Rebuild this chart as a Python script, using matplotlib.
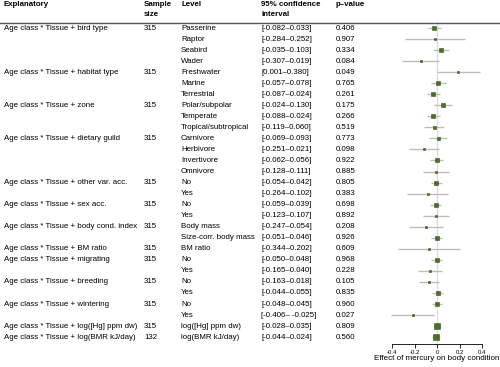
import matplotlib.pyplot as plt
import matplotlib.transforms as mtransforms

plt.rcParams['font.family'] = ['Liberation Sans', 'DejaVu Sans']

# Table content
explanatory = [
    'Age class * Tissue + bird type', 'Age class * Tissue + habitat type',
    'Age class * Tissue + zone', 'Age class * Tissue + dietary guild',
    'Age class * Tissue + other var. acc.', 'Age class * Tissue + sex acc.',
    'Age class * Tissue + body cond. index', 'Age class * Tissue + BM ratio',
    'Age class * Tissue + migrating', 'Age class * Tissue + breeding',
    'Age class * Tissue + wintering', 'Age class * Tissue + log([Hg] ppm dw)',
    'Age class * Tissue + log(BMR kJ/day)',
]
sample_size = [315, 315, 315, 315, 315, 315, 315, 315, 315, 315, 315, 315, 132]
n_levels = [4, 3, 3, 4, 2, 2, 2, 1, 2, 2, 2, 1, 1]

levels = [
    'Passerine', 'Raptor', 'Seabird', 'Wader',
    'Freshwater', 'Marine', 'Terrestrial',
    'Polar/subpolar', 'Temperate', 'Tropical/subtropical',
    'Carnivore', 'Herbivore', 'Invertivore', 'Omnivore',
    'No', 'Yes', 'No', 'Yes',
    'Body mass', 'Size-corr. body mass', 'BM ratio',
    'No', 'Yes', 'No', 'Yes', 'No', 'Yes',
    'log([Hg] ppm dw)', 'log(BMR kJ/day)',
]
ci_low = [-0.082, -0.284, -0.035, -0.307, 0.001, -0.057, -0.087, -0.024, -0.088,
          -0.119, -0.069, -0.251, -0.062, -0.128, -0.054, -0.264, -0.059, -0.123,
          -0.247, -0.051, -0.344, -0.050, -0.165, -0.163, -0.044, -0.048, -0.406,
          -0.028, -0.044]
ci_high = [0.033, 0.252, 0.103, 0.019, 0.380, 0.078, 0.024, 0.130, 0.024, 0.060,
           0.093, 0.021, 0.056, 0.111, 0.042, 0.102, 0.039, 0.107, 0.054, 0.046,
           0.202, 0.048, 0.040, 0.018, 0.055, 0.045, -0.025, 0.035, 0.024]
ci_text = ['[-0.082–0.033]', '[-0.284–0.252]', '[-0.035–0.103]', '[-0.307–0.019]',
           '[0.001–0.380]', '[-0.057–0.078]', '[-0.087–0.024]', '[-0.024–0.130]',
           '[-0.088–0.024]', '[-0.119–0.060]', '[-0.069–0.093]', '[-0.251–0.021]',
           '[-0.062–0.056]', '[-0.128–0.111]', '[-0.054–0.042]', '[-0.264–0.102]',
           '[-0.059–0.039]', '[-0.123–0.107]', '[-0.247–0.054]', '[-0.051–0.046]',
           '[-0.344–0.202]', '[-0.050–0.048]', '[-0.165–0.040]', '[-0.163–0.018]',
           '[-0.044–0.055]', '[-0.048–0.045]', '[-0.406– -0.025]', '[-0.028–0.035]',
           '[-0.044–0.024]']
p_values = ['0.406', '0.907', '0.334', '0.084', '0.049', '0.765', '0.261', '0.175',
            '0.266', '0.519', '0.773', '0.098', '0.922', '0.885', '0.805', '0.383',
            '0.698', '0.892', '0.208', '0.926', '0.609', '0.968', '0.228', '0.105',
            '0.835', '0.960', '0.027', '0.809', '0.560']
# point estimates
estimate = [-0.025, -0.016, 0.034, -0.144, 0.190, 0.011, -0.032, 0.053, -0.032,
            -0.030, 0.012, -0.115, -0.003, -0.009, -0.006, -0.081, -0.010, -0.008,
            -0.097, -0.003, -0.071, -0.001, -0.063, -0.073, 0.006, -0.002, -0.216,
            0.004, -0.010]
# marker size (weight) in pixels
weight_px = [4, 2, 3.5, 2, 2, 3.5, 4, 3.5, 4, 3, 3, 2, 3.5, 2.5, 4, 2, 4.5, 2.5,
             2.5, 4.5, 2, 4, 2.5, 2.5, 4, 4.5, 2, 6, 5.5]

W, H = 500, 367
fig = plt.figure(figsize=(W / 100, H / 100), dpi=100)

row0, drow, axis_y = 28, 11.04, 344
ax = fig.add_axes([370 / W, (H - axis_y) / H, 130 / W, axis_y / H])
ax.set_ylim((axis_y - row0) / drow, -row0 / drow)
ax.set_xlim((370 - 437) / 112.5, (500 - 437) / 112.5)

rows = list(range(len(levels)))
ax.plot([0, 0], [-0.55, 28.62], color='#dedede', lw=1, zorder=1)
ax.hlines(rows, ci_low, ci_high, color='#bdbdbd', lw=1, zorder=2)
for r, e, s in zip(rows, estimate, weight_px):
    ax.plot(e, r, marker='s', ms=s * 0.72, color='#4e6d2b', mec='#3a5420',
            mew=0.4, zorder=3)

for sp in ['top', 'right', 'left']:
    ax.spines[sp].set_visible(False)
ax.spines['bottom'].set_bounds(-0.4, 0.4)
ax.spines['bottom'].set_linewidth(0.6)
ax.set_yticks([])
ax.set_xticks([-0.4, -0.2, 0, 0.2, 0.4])
ax.set_xticklabels(['-0.4', '-0.2', '0', '0.2', '0.4'], fontsize=4.3)
ax.tick_params(axis='x', length=3, width=0.6, pad=1.5)
ax.set_xlabel('Effect of mercury on body condition', fontsize=5.8)
ax.xaxis.set_label_coords((437 - 370) / 130, -14.5 / axis_y)
ax.xaxis.label.set_va('center')

# table text
trans = mtransforms.blended_transform_factory(fig.transFigure, ax.transData)
fs = 5.7
r = 0
for name, n, k in zip(explanatory, sample_size, n_levels):
    ax.text(4 / W, r, name, transform=trans, fontsize=fs, va='center', ha='left')
    ax.text(144 / W, r, str(n), transform=trans, fontsize=fs, va='center', ha='left')
    r += k
for r, lev, ci, p in zip(rows, levels, ci_text, p_values):
    ax.text(181 / W, r, lev, transform=trans, fontsize=fs, va='center', ha='left')
    ax.text(261 / W, r, ci, transform=trans, fontsize=fs, va='center', ha='left')
    ax.text(336 / W, r, p, transform=trans, fontsize=fs, va='center', ha='left')

# header
hy = 1 - 5 / H
fig.text(4 / W, hy, 'Explanatory', fontsize=fs, fontweight='bold', va='center')
fig.text(144 / W, hy, 'Sample', fontsize=fs, fontweight='bold', va='center')
fig.text(144 / W, 1 - 14 / H, 'size', fontsize=fs, fontweight='bold', va='center')
fig.text(181 / W, hy, 'Level', fontsize=fs, fontweight='bold', va='center')
fig.text(261 / W, hy, '95% confidence', fontsize=fs, fontweight='bold', va='center')
fig.text(261 / W, 1 - 14 / H, 'interval', fontsize=fs, fontweight='bold', va='center')
fig.text(336 / W, hy, 'p–value', fontsize=fs, fontweight='bold', va='center')
fig.add_artist(plt.Line2D([0, 1], [1 - 22.5 / H, 1 - 22.5 / H], color='#555555',
                          lw=1, transform=fig.transFigure))

fig.savefig('out.png', dpi=100)
